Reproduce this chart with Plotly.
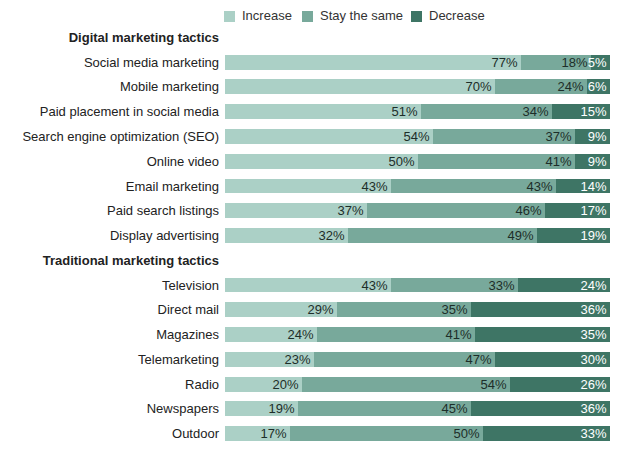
import plotly.graph_objects as go

# rows top to bottom; heading rows carry no bars
categories = [
    "Digital marketing tactics",
    "Social media marketing", "Mobile marketing", "Paid placement in social media",
    "Search engine optimization (SEO)", "Online video", "Email marketing",
    "Paid search listings", "Display advertising",
    "Traditional marketing tactics",
    "Television", "Direct mail", "Magazines", "Telemarketing", "Radio",
    "Newspapers", "Outdoor",
]
headings = ["Digital marketing tactics", "Traditional marketing tactics"]

increase = [None, 77, 70, 51, 54, 50, 43, 37, 32, None, 43, 29, 24, 23, 20, 19, 17]
stay_same = [None, 18, 24, 34, 37, 41, 43, 46, 49, None, 33, 35, 41, 47, 54, 45, 50]
decrease = [None, 5, 6, 15, 9, 9, 14, 17, 19, None, 24, 36, 35, 30, 26, 36, 33]

series = [
    ("Increase", increase, "#abd0c6", "#1d2e29"),
    ("Stay the same", stay_same, "#78a99b", "#1d2e29"),
    ("Decrease", decrease, "#3e7565", "#ffffff"),
]

W, H = 617, 450
ML, MR, MT, MB = 225, 7, 25, 4
PW, PH = W - ML - MR, H - MT - MB

fig = go.Figure()
for name, vals, color, tcolor in series:
    fig.add_trace(go.Bar(
        name=name, y=categories, x=vals, orientation="h",
        marker=dict(color=color, line=dict(width=0)),
        width=0.6,
        text=[f"{v}%" if v is not None else "" for v in vals],
        textposition="inside", insidetextanchor="end",
        textfont=dict(color=tcolor, size=13, family="Liberation Sans, Arial"),
        constraintext="none",
        hoverinfo="skip",
    ))

ticktext = [f"<b>{c}</b>" if c in headings else c for c in categories]

fig.update_layout(
    barmode="stack",
    width=W, height=H,
    margin=dict(l=ML, r=MR, t=MT, b=MB, autoexpand=False),
    paper_bgcolor="white", plot_bgcolor="white",
    font=dict(family="Liberation Sans, Arial", size=13, color="#222222"),
    bargap=0,
    showlegend=False,
)
fig.update_xaxes(range=[0, 100], visible=False, fixedrange=True, automargin=False)
fig.update_yaxes(categoryorder="array", categoryarray=categories,
                 tickmode="array", tickvals=categories, ticktext=ticktext,
                 autorange="reversed", showgrid=False, zeroline=False,
                 ticks="", ticklabelstandoff=5, automargin=False, fixedrange=True,
                 tickfont=dict(size=13, color="#222222"))

# hand-placed legend: swatch left edge / text left edge in pixels
legend_pos = [(224, 240), (302, 318), (411, 427)]
px_x = lambda x: (x - ML) / PW
px_y = lambda y: (H - MB - y) / PH
for (name, _, color, _), (sx, tx) in zip(series, legend_pos):
    fig.add_shape(type="rect", xref="paper", yref="paper",
                  x0=px_x(sx), x1=px_x(sx + 11), y0=px_y(22), y1=px_y(11),
                  fillcolor=color, line=dict(width=0))
    fig.add_annotation(text=name, xref="paper", yref="paper",
                       x=px_x(tx), xanchor="left", y=px_y(16), yanchor="middle",
                       showarrow=False, font=dict(size=13, color="#333333"))

fig.write_html("out.html", config={"displayModeBar": False},
               post_script="document.body.style.margin='0';")
